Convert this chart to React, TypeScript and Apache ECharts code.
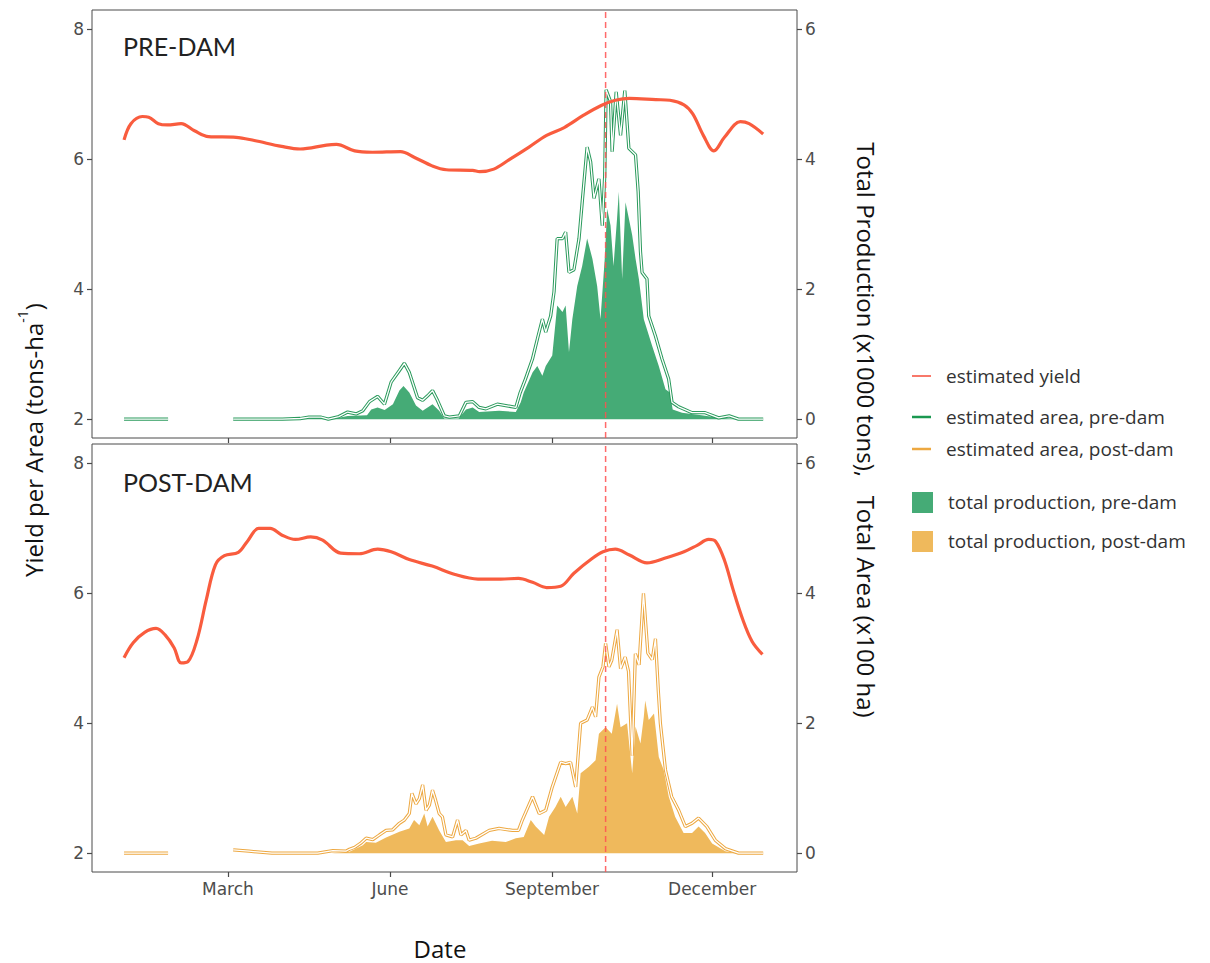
import React, { useEffect, useRef } from "react";
import * as echarts from "echarts";

// ---- axis ticks / labels ----
const monthTickDays = [59, 151, 243, 334];
const monthNames = ["March", "June", "September", "December"];
const yieldTicks = [2, 4, 6, 8];
const prodTicks = [0, 2, 4, 6];
const damDay = 273.5; // dashed reference line (about 1 October)

// ---- estimated yield (tons/ha), [day of year, value] ----
const preYield: [number, number][] = [
  [0, 6.3], [3.9, 6.55], [10.4, 6.66], [14, 6.65], [19.5, 6.55], [24.6, 6.53], [32.4, 6.55],
  [40, 6.44], [48, 6.35], [63.6, 6.34], [74, 6.29], [89.5, 6.2], [100, 6.16], [115, 6.22],
  [120.6, 6.23], [131, 6.13], [141, 6.11], [157, 6.12], [165, 6.03], [175, 5.9], [183, 5.84],
  [198, 5.83], [202, 5.81], [210, 5.85], [219, 6.0], [230, 6.19], [240, 6.37], [250, 6.49],
  [261, 6.68], [271, 6.83], [279, 6.91], [287, 6.94], [302, 6.92], [310, 6.91], [318, 6.84],
  [323, 6.7], [329, 6.37], [335, 6.13], [341, 6.34], [350, 6.58], [355, 6.55], [363, 6.39],
];
const postYield: [number, number][] = [
  [0, 5.01], [5.2, 5.24], [11.7, 5.4], [18.2, 5.46], [23.3, 5.36], [28.5, 5.16], [32.4, 4.93],
  [36.3, 4.95], [41.5, 5.29], [46.7, 5.9], [51.9, 6.44], [57, 6.58], [64.9, 6.63], [70, 6.8],
  [76.5, 7.0], [83, 7.0], [89.5, 6.9], [97.3, 6.83], [106, 6.87], [112.8, 6.82], [123, 6.62],
  [133.6, 6.61], [144, 6.68], [151.7, 6.64], [162, 6.52], [175, 6.42], [188, 6.29], [201, 6.22],
  [214, 6.22], [224, 6.23], [232, 6.17], [240, 6.09], [248, 6.11], [255.5, 6.31], [266, 6.54],
  [272, 6.64], [279, 6.68], [287, 6.59], [297, 6.47], [307, 6.54], [318, 6.64], [325.5, 6.74],
  [332, 6.83], [336, 6.8], [341, 6.51], [346, 6.05], [351.5, 5.59], [356.7, 5.26], [362.6, 5.06],
];

// ---- estimated area (x100 ha), pre-dam ----
const preArea: [number, number | null][] = [
  [0, 0], [8, 0], [16, 0], [25, 0], [40, null],
  [62, 0], [75, 0], [90, 0], [100, 0.01], [105, 0.03], [112, 0.03], [116, 0], [122, 0.04],
  [127, 0.11], [131.8, 0.08], [135.6, 0.13], [139.4, 0.27], [144, 0.35], [147.9, 0.23],
  [151.7, 0.57], [156.4, 0.75], [159.2, 0.86], [162, 0.72], [166.7, 0.33], [169.6, 0.29],
  [172.4, 0.36], [175.2, 0.44], [178, 0.29], [181.9, 0.05], [184.8, 0.03], [190.4, 0.05],
  [194.2, 0.26], [198, 0.27], [201.7, 0.18], [205.5, 0.16], [212, 0.23], [216.8, 0.21],
  [222.5, 0.18], [225, 0.41], [228, 0.62], [232, 0.93], [234.7, 1.23], [237.6, 1.54],
  [239.5, 1.34], [242.3, 1.59], [244.2, 1.96], [246, 2.78], [249, 2.78], [250.8, 2.88],
  [252.7, 2.26], [255.5, 2.3], [258.4, 2.78], [260.2, 3.34], [263, 4.19], [265, 3.96],
  [266.9, 3.4], [269.7, 3.7], [271.6, 2.98], [273, 3.75], [273.8, 5.07], [276.3, 4.89],
  [277.2, 4.12], [279.5, 5.04], [282, 4.37], [284.4, 5.06], [286.7, 4.17], [288.6, 4.12],
  [290.5, 4.07], [292, 3.5], [293.3, 2.58], [294.2, 2.26], [297, 2.16], [298, 1.59],
  [301.8, 1.28], [305.5, 0.93], [309.3, 0.62], [311.2, 0.26], [315, 0.19], [322.6, 0.1],
  [330, 0.1], [337.7, 0.02], [343.7, 0.05], [349, 0], [356, 0], [363, 0],
];

// ---- total production (x1000 tons), pre-dam ----
const preProd: [number, number][] = [
  [62, 0], [100, 0.01], [112, 0.02], [120, 0.01], [122, 0.02], [127, 0.05], [138, 0.06],
  [140.4, 0.15], [144, 0.18], [148, 0.14], [152.7, 0.23], [156.4, 0.44], [158.7, 0.51],
  [162, 0.41], [165.8, 0.21], [169.6, 0.13], [172.4, 0.18], [175.2, 0.23], [179, 0.13],
  [181.9, 0.01], [190, 0.01], [194.2, 0.15], [198, 0.18], [201.7, 0.11], [213, 0.13],
  [222.5, 0.11], [225.3, 0.26], [227, 0.41], [232, 0.72], [234.7, 0.82], [237.6, 0.67],
  [239.5, 0.82], [243.2, 0.98], [246, 1.75], [249, 1.65], [250.8, 1.75], [252.7, 1.03],
  [254.6, 1.54], [257.4, 2.05], [260.2, 2.36], [263, 2.78], [266, 2.47], [268.7, 2.05],
  [270.6, 1.54], [273, 2.47], [274.4, 3.24], [276.3, 2.98], [278, 2.36], [280, 3.09],
  [281, 3.5], [282.9, 2.16], [284.8, 3.34], [286.7, 3.09], [288.6, 2.83], [290.5, 2.47],
  [292.4, 2.16], [295.2, 1.54], [299.9, 1.13], [303.7, 0.82], [307.5, 0.46], [310, 0.41],
  [311.6, 0.15], [316.9, 0.1], [328, 0.06], [337.7, 0.02], [345, 0.01], [363, 0],
];

// ---- estimated area (x100 ha), post-dam ----
const postArea: [number, number | null][] = [
  [0, 0], [8, 0], [16, 0], [25, 0], [40, null],
  [62, 0.05], [71, 0.03], [84, 0], [95, 0], [110, 0], [118.6, 0.04], [126, 0.03], [128, 0.06],
  [131, 0.09], [134.7, 0.16], [137.5, 0.23], [141.3, 0.21], [145, 0.28], [148.8, 0.35],
  [152.6, 0.36], [156.4, 0.46], [159.2, 0.51], [162, 0.61], [163.5, 0.92], [165.8, 0.76],
  [167.7, 0.84], [169.6, 1.05], [171.5, 0.66], [173.4, 0.74], [175.2, 0.97], [177, 0.81],
  [179, 0.61], [180.8, 0.56], [182.8, 0.28], [186.6, 0.25], [189.4, 0.51], [191.3, 0.28],
  [194.2, 0.35], [196, 0.2], [199.8, 0.23], [207.4, 0.35], [213, 0.38], [220.7, 0.35],
  [224, 0.35], [226.2, 0.51], [232, 0.87], [235.8, 0.61], [239.5, 0.66], [243.2, 1.02],
  [248, 1.4], [250.8, 1.38], [253.6, 1.4], [256.5, 1.02], [259.3, 2.0], [263, 2.05],
  [266, 2.25], [267.8, 2.1], [269.7, 2.71], [272, 2.87], [273.5, 3.23], [275.4, 2.87],
  [277, 2.97], [280, 3.44], [282, 2.84], [284.6, 3.02], [286.5, 2.8], [288.6, 1.5],
  [290.4, 3.07], [292.5, 2.9], [295, 4.0], [297.5, 3.08], [300, 2.98], [301.8, 3.3],
  [303.5, 2.47], [304.6, 2.0], [307.5, 1.28], [311, 0.87], [315, 0.66], [318.8, 0.41],
  [322.6, 0.46], [326.3, 0.54], [331, 0.41], [335.8, 0.2], [341.5, 0.07], [349, 0],
  [356, 0], [363, 0],
];

// ---- total production (x1000 tons), post-dam ----
const postProd: [number, number][] = [
  [118, 0], [128, 0.02], [135.6, 0.12], [137.5, 0.17], [143, 0.16], [148.8, 0.24],
  [156.4, 0.33], [162, 0.38], [164.7, 0.51], [167.7, 0.43], [170.5, 0.61], [172.4, 0.41],
  [175.2, 0.56], [179, 0.35], [182.8, 0.17], [188.5, 0.2], [192.3, 0.2], [196, 0.11],
  [201.7, 0.15], [209, 0.19], [216.8, 0.17], [222.5, 0.23], [227, 0.25], [231, 0.51],
  [233.8, 0.41], [238.6, 0.28], [241.4, 0.56], [245, 0.71], [248, 0.87], [250.8, 0.71],
  [254.6, 0.87], [257.4, 0.61], [259.3, 1.23], [264, 1.33], [267.8, 1.43], [269.7, 1.84],
  [273.5, 1.94], [277, 1.84], [280, 2.3], [282, 1.94], [285.7, 2.0], [288.6, 1.23],
  [290.5, 1.95], [293.3, 1.69], [295.2, 2.1], [296, 2.35], [298, 2.05], [301, 2.15],
  [303.7, 1.48], [306.5, 1.28], [309.4, 0.87], [313, 0.56], [317.8, 0.31], [322.6, 0.31],
  [326.3, 0.41], [330, 0.31], [334, 0.15], [341.5, 0.03], [349, 0],
];

const RED = "#f95c3e";
const DASH_RED = "#ff5050";
const GREEN_FILL = "#45ab76";
const GREEN_LINE = "#2a9a5c";
const ORANGE_FILL = "#efb95c";
const ORANGE_LINE = "#eda841";
const AXIS_GREY = "#4a4a4a";
const LABEL_GREY = "#4d4d4d";
const TITLE_FONT = "'Open Sans', Lato, sans-serif";
const PANEL_FONT = "Lato, 'Open Sans', sans-serif";
const TICK_FONT = "'DejaVu Sans', 'Liberation Sans', sans-serif";

export default function App() {
  const ref = useRef<HTMLDivElement>(null);

  useEffect(() => {
    if (!ref.current) return;
    const chart = echarts.init(ref.current, null, { renderer: "svg" });

    const xMin = -18.2;
    const xMax = 382.2;
    const yMin = 1.71;
    const yMax = 8.3;

    const tickLabel = { color: LABEL_GREY, fontSize: 17, fontFamily: TICK_FONT, margin: 8 };
    const tickStyle = (values: number[]) => ({
      show: true,
      inside: false,
      length: 5,
      customValues: values,
      lineStyle: { color: AXIS_GREY, width: 1.2 },
    });

    const xAxis = (gridIndex: number, showLabels: boolean) => ({
      type: "value",
      gridIndex,
      min: xMin,
      max: xMax,
      splitLine: { show: false },
      axisLine: { show: false, onZero: false },
      axisTick: tickStyle(monthTickDays),
      axisLabel: {
        show: showLabels,
        customValues: monthTickDays,
        formatter: (v: number) => monthNames[monthTickDays.indexOf(Math.round(v))] ?? "",
        ...tickLabel,
      },
    });

    const leftY = (gridIndex: number) => ({
      type: "value",
      gridIndex,
      position: "left",
      min: yMin,
      max: yMax,
      splitLine: { show: false },
      axisLine: { show: false, onZero: false },
      axisTick: tickStyle(yieldTicks),
      axisLabel: { customValues: yieldTicks, ...tickLabel },
    });

    const rightY = (gridIndex: number) => ({
      type: "value",
      gridIndex,
      position: "right",
      min: yMin - 2,
      max: yMax - 2,
      splitLine: { show: false },
      axisLine: { show: false, onZero: false },
      axisTick: tickStyle(prodTicks),
      axisLabel: { customValues: prodTicks, ...tickLabel },
    });

    const panelSeries = (
      gi: number,
      prod: [number, number][],
      area: [number, number | null][],
      yld: [number, number][],
      fill: string,
      line: string
    ) => {
      const xi = gi;
      const yl = gi * 2;
      const yr = gi * 2 + 1;
      return [
        {
          type: "line",
          xAxisIndex: xi,
          yAxisIndex: yr,
          data: prod,
          showSymbol: false,
          lineStyle: { width: 0 },
          areaStyle: { color: fill, opacity: 1 },
          z: 1,
          silent: true,
        },
        {
          type: "line",
          xAxisIndex: xi,
          yAxisIndex: yr,
          data: area,
          showSymbol: false,
          connectNulls: false,
          lineStyle: { width: 3.3, color: line },
          z: 2,
          silent: true,
        },
        {
          type: "line",
          xAxisIndex: xi,
          yAxisIndex: yr,
          data: area,
          showSymbol: false,
          connectNulls: false,
          lineStyle: { width: 1.3, color: "#ffffff" },
          z: 3,
          silent: true,
        },
        {
          type: "line",
          xAxisIndex: xi,
          yAxisIndex: yl,
          data: yld,
          showSymbol: false,
          smooth: 0.35,
          lineStyle: { width: 3.2, color: RED },
          z: 4,
          silent: true,
        },
        {
          type: "line",
          xAxisIndex: xi,
          yAxisIndex: yl,
          data: [[damDay, yMin], [damDay, yMax]],
          showSymbol: false,
          lineStyle: { width: 1.5, color: DASH_RED, type: [6, 4], opacity: 0.85 },
          itemStyle: { color: DASH_RED },
          z: 5,
          silent: true,
        },
      ];
    };

    const legendText = (x: number, y: number, text: string) => ({
      type: "text",
      x,
      y,
      style: {
        text,
        fill: "#333333",
        fontSize: 19,
        fontFamily: TITLE_FONT,
        verticalAlign: "middle",
        align: "left",
      },
    });

    chart.setOption({
      animation: false,
      backgroundColor: "#ffffff",
      grid: [
        { left: 92, top: 10, width: 705, height: 428, show: true, borderColor: AXIS_GREY, borderWidth: 1, backgroundColor: "transparent" },
        { left: 92, top: 444, width: 705, height: 428, show: true, borderColor: AXIS_GREY, borderWidth: 1, backgroundColor: "transparent" },
      ],
      xAxis: [xAxis(0, false), xAxis(1, true)],
      yAxis: [leftY(0), rightY(0), leftY(1), rightY(1)],
      series: [
        ...panelSeries(0, preProd, preArea, preYield, GREEN_FILL, GREEN_LINE),
        ...panelSeries(1, postProd, postArea, postYield, ORANGE_FILL, ORANGE_LINE),
      ],
      graphic: [
        {
          type: "text",
          x: 123,
          y: 46,
          style: { text: "PRE-DAM", fill: "#222222", fontSize: 25, fontFamily: PANEL_FONT, verticalAlign: "middle" },
        },
        {
          type: "text",
          x: 123,
          y: 482,
          style: { text: "POST-DAM", fill: "#222222", fontSize: 25, fontFamily: PANEL_FONT, verticalAlign: "middle" },
        },
        {
          type: "text",
          x: 440,
          y: 948,
          style: { text: "Date", fill: "#111111", fontSize: 24, fontFamily: TITLE_FONT, align: "center", verticalAlign: "middle" },
        },
        {
          type: "text",
          x: 30,
          y: 440,
          rotation: Math.PI / 2,
          style: {
            text: "{a|Yield per Area (tons-ha}{s|-1}{a|)}",
            align: "center",
            verticalAlign: "middle",
            fill: "#111111",
            rich: {
              a: { fontSize: 24, fontFamily: TITLE_FONT, fill: "#111111", lineHeight: 30, verticalAlign: "bottom" },
              s: { fontSize: 14, fontFamily: TITLE_FONT, fill: "#111111", lineHeight: 30, verticalAlign: "top", padding: [0, 0, 10, 0] },
            },
          },
        },
        {
          type: "text",
          x: 866,
          y: 430,
          rotation: -Math.PI / 2,
          style: {
            text: "Total Production (x1000 tons),   Total Area (x100 ha)",
            align: "center",
            verticalAlign: "middle",
            fill: "#111111",
            fontSize: 24,
            fontFamily: TITLE_FONT,
          },
        },
        // legend
        { type: "line", shape: { x1: 912, y1: 376, x2: 931, y2: 376 }, style: { stroke: "#f8786a", lineWidth: 2 } },
        legendText(946, 376, "estimated yield"),
        { type: "line", shape: { x1: 912, y1: 417, x2: 931, y2: 417 }, style: { stroke: "#1a9850", lineWidth: 2.5 } },
        legendText(946, 417, "estimated area, pre-dam"),
        { type: "line", shape: { x1: 912, y1: 449, x2: 931, y2: 449 }, style: { stroke: ORANGE_LINE, lineWidth: 2.5 } },
        legendText(946, 449, "estimated area, post-dam"),
        { type: "rect", shape: { x: 912, y: 492, width: 21, height: 21 }, style: { fill: GREEN_FILL } },
        legendText(948, 502, "total production, pre-dam"),
        { type: "rect", shape: { x: 912, y: 531, width: 21, height: 21 }, style: { fill: ORANGE_FILL } },
        legendText(948, 541, "total production, post-dam"),
      ],
    });

    return () => chart.dispose();
  }, []);

  return <div ref={ref} style={{ position: "fixed", left: 0, top: 0, width: 1210, height: 963 }} />;
}
